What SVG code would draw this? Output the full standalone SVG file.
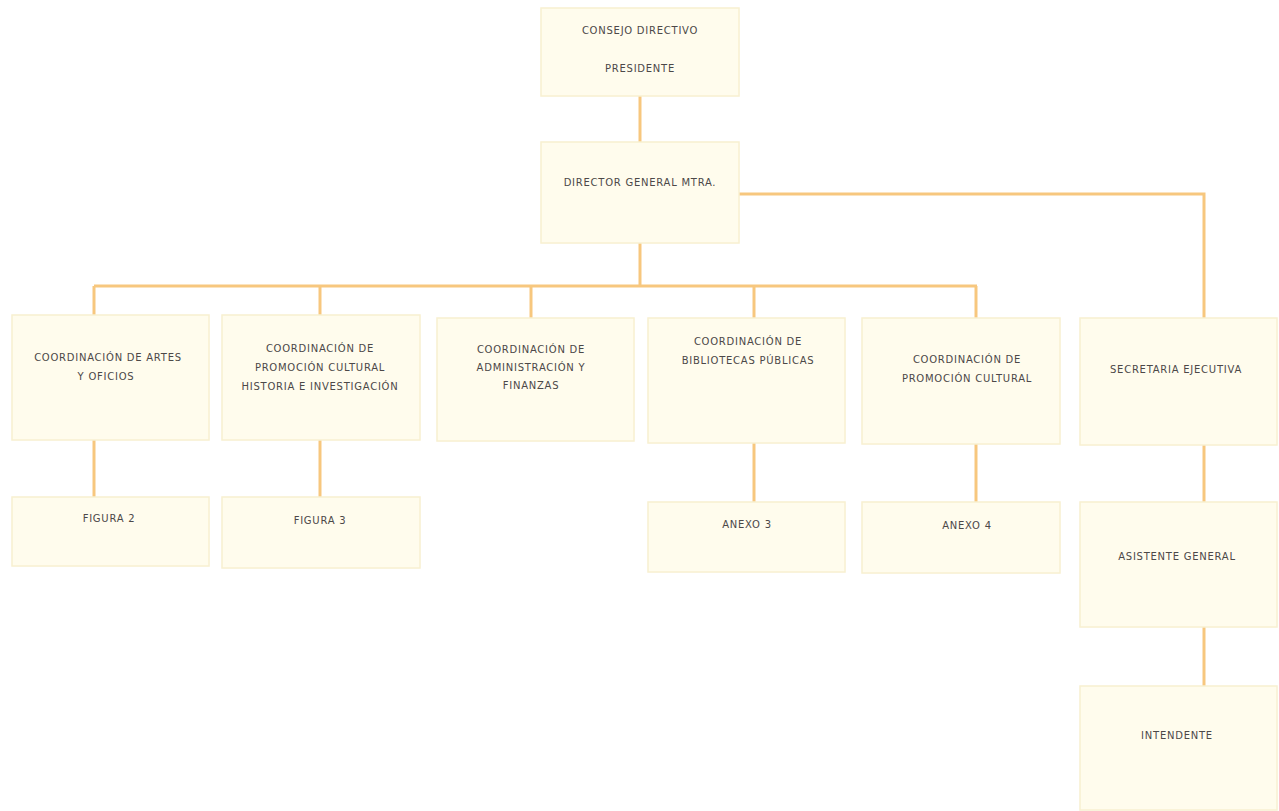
<svg xmlns="http://www.w3.org/2000/svg" width="1279" height="811" viewBox="0 0 1279 811">
<style>
.box{fill:#fffced;stroke:#f8f0d0;stroke-width:1.5}
.t{font-family:"DejaVu Sans",sans-serif;font-size:10px;fill:#4c4848;text-anchor:middle;letter-spacing:0.75px}
.c{fill:none;stroke:#f7c77e;stroke-width:3}
</style>
<rect width="1279" height="811" fill="#ffffff"/>
<g id="connectors">
<path class="c" d="M640 96V142"/>
<path class="c" d="M640 243V286"/>
<path class="c" d="M94 286H977"/>
<path class="c" d="M94 286V315"/>
<path class="c" d="M320 286V315"/>
<path class="c" d="M531 286V318"/>
<path class="c" d="M754 286V318"/>
<path class="c" d="M976 286V318"/>
<path class="c" d="M739 194H1204V318"/>
<path class="c" d="M94 440V497"/>
<path class="c" d="M320 440V497"/>
<path class="c" d="M754 443V502"/>
<path class="c" d="M976 444V502"/>
<path class="c" d="M1204 445V502"/>
<path class="c" d="M1204 627V686"/>
</g>
<g id="consejo"><rect class="box" x="541" y="8" width="198" height="88"/>
<text class="t" x="640" y="34">CONSEJO DIRECTIVO</text><text class="t" x="640" y="72">PRESIDENTE</text></g>
<g id="director"><rect class="box" x="541" y="142" width="198" height="101"/>
<text class="t" x="640" y="186">DIRECTOR GENERAL MTRA.</text></g>
<g id="artes"><rect class="box" x="12" y="315" width="197" height="125"/>
<text class="t" x="108" y="361">COORDINACIÓN DE ARTES</text><text class="t" x="106" y="380">Y OFICIOS</text></g>
<g id="promocion-historia"><rect class="box" x="222" y="315" width="198" height="125"/>
<text class="t" x="320" y="352">COORDINACIÓN DE</text><text class="t" x="320" y="371">PROMOCIÓN CULTURAL</text><text class="t" x="320" y="390">HISTORIA E INVESTIGACIÓN</text></g>
<g id="administracion"><rect class="box" x="437" y="318" width="197" height="123"/>
<text class="t" x="531" y="353">COORDINACIÓN DE</text><text class="t" x="531" y="371">ADMINISTRACIÓN Y</text><text class="t" x="531" y="389">FINANZAS</text></g>
<g id="bibliotecas"><rect class="box" x="648" y="318" width="197" height="125"/>
<text class="t" x="748" y="345">COORDINACIÓN DE</text><text class="t" x="748" y="364">BIBLIOTECAS PÚBLICAS</text></g>
<g id="promocion"><rect class="box" x="862" y="318" width="198" height="126"/>
<text class="t" x="967" y="363">COORDINACIÓN DE</text><text class="t" x="967" y="382">PROMOCIÓN CULTURAL</text></g>
<g id="secretaria"><rect class="box" x="1080" y="318" width="197" height="127"/>
<text class="t" x="1176" y="373">SECRETARIA EJECUTIVA</text></g>
<g id="figura2"><rect class="box" x="12" y="497" width="197" height="69"/>
<text class="t" x="109" y="522">FIGURA 2</text></g>
<g id="figura3"><rect class="box" x="222" y="497" width="198" height="71"/>
<text class="t" x="320" y="524">FIGURA 3</text></g>
<g id="anexo3"><rect class="box" x="648" y="502" width="197" height="70"/>
<text class="t" x="747" y="528">ANEXO 3</text></g>
<g id="anexo4"><rect class="box" x="862" y="502" width="198" height="71"/>
<text class="t" x="967" y="529">ANEXO 4</text></g>
<g id="asistente"><rect class="box" x="1080" y="502" width="197" height="125"/>
<text class="t" x="1177" y="560">ASISTENTE GENERAL</text></g>
<g id="intendente"><rect class="box" x="1080" y="686" width="197" height="124"/>
<text class="t" x="1177" y="739">INTENDENTE</text></g>
</svg>
